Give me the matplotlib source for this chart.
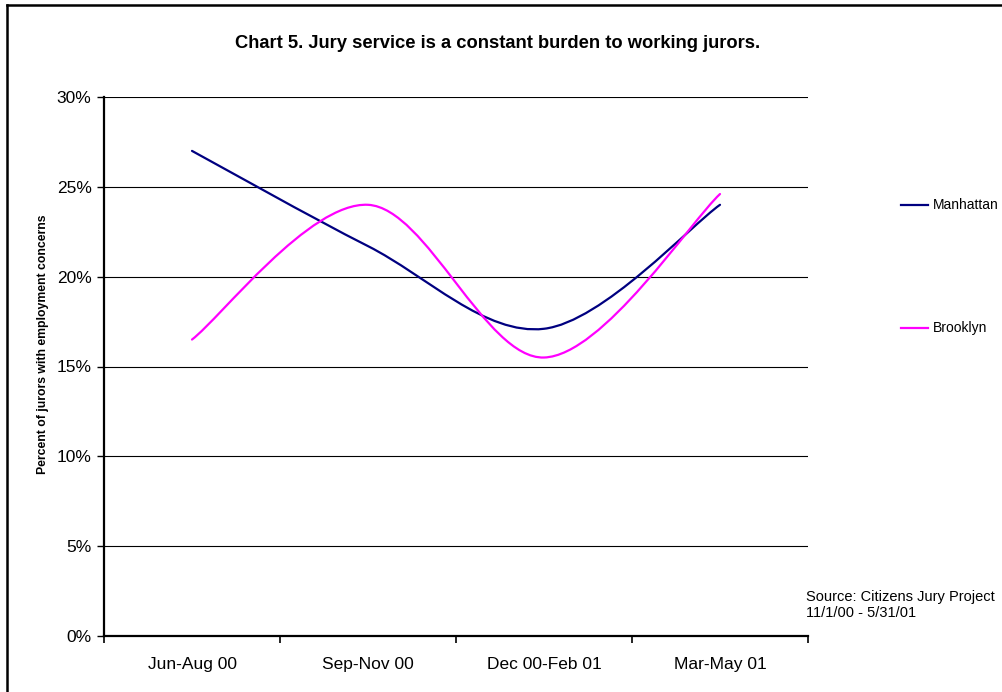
import matplotlib
matplotlib.use("Agg")
import matplotlib.pyplot as plt
from matplotlib.path import Path
from matplotlib.patches import PathPatch
from matplotlib.lines import Line2D
from matplotlib.ticker import FixedLocator, FuncFormatter

plt.rcParams['font.family'] = ['Liberation Sans', 'DejaVu Sans']

categories = ["Jun-Aug 00", "Sep-Nov 00", "Dec 00-Feb 01", "Mar-May 01"]
manhattan = [27.0, 21.7, 17.1, 24.0]
brooklyn = [16.5, 24.0, 15.5, 24.6]
yticks = [0, 5, 10, 15, 20, 25, 30]
title = "Chart 5. Jury service is a constant burden to working jurors."
ylabel = "Percent of jurors with employment concerns"
source = "Source: Citizens Jury Project\n11/1/00 - 5/31/01"


def smooth_path(xs, ys):
    """Excel-style smoothed line: cubic Bezier segments through the points."""
    pts = list(zip(xs, ys))
    n = len(pts)
    verts = [pts[0]]
    codes = [Path.MOVETO]
    for i in range(n - 1):
        p0 = pts[i - 1] if i > 0 else pts[i]
        p1 = pts[i]
        p2 = pts[i + 1]
        p3 = pts[i + 2] if i + 2 < n else pts[i + 1]
        c1 = (p1[0] + (p2[0] - p0[0]) / 6.0, p1[1] + (p2[1] - p0[1]) / 6.0)
        c2 = (p2[0] - (p3[0] - p1[0]) / 6.0, p2[1] - (p3[1] - p1[1]) / 6.0)
        verts += [c1, c2, p2]
        codes += [Path.CURVE4] * 3
    return Path(verts, codes)


fig = plt.figure(figsize=(10.02, 6.92), dpi=100)
ax = fig.add_axes([104 / 1002, 1 - 636 / 692, 704 / 1002, 539 / 692])

x = list(range(len(categories)))
ax.set_xlim(-0.5, len(categories) - 0.5)
ax.set_ylim(0, 30)

for vals, color in [(manhattan, "#000080"), (brooklyn, "#FF00FF")]:
    patch = PathPatch(smooth_path(x, vals), facecolor="none", edgecolor=color,
                      lw=1.6, capstyle="round", joinstyle="round", zorder=3)
    ax.add_patch(patch)

# gridlines
for yv in yticks[1:]:
    ax.axhline(yv, color="black", lw=0.8, zorder=1)

for s in ["top", "right"]:
    ax.spines[s].set_visible(False)
for s in ["left", "bottom"]:
    ax.spines[s].set_linewidth(1.6)

ax.yaxis.set_major_locator(FixedLocator(yticks))
ax.yaxis.set_major_formatter(FuncFormatter(lambda v, p: f"{v:.0f}%"))
ax.tick_params(axis="y", direction="out", length=5, width=1.0, pad=4, labelsize=12.5)

ax.xaxis.set_major_locator(FixedLocator([i - 0.5 for i in range(len(categories) + 1)]))
ax.xaxis.set_major_formatter(FuncFormatter(lambda v, p: ""))
ax.set_xticks(x, minor=True)
ax.set_xticklabels(categories, minor=True)
ax.tick_params(axis="x", which="major", direction="out", length=5, width=1.2)
ax.tick_params(axis="x", which="minor", length=0, pad=15, labelsize=12.5)

fig.text(498 / 1002, 1 - 43 / 692, title, ha="center", va="center",
         fontsize=13.2, fontweight="bold")
fig.text(43 / 1002, 1 - 344 / 692, ylabel, rotation=90, ha="center", va="center",
         fontsize=8.8, fontweight="bold")

# legend
for label, color, ypx in [("Manhattan", "#000080", 205), ("Brooklyn", "#FF00FF", 328)]:
    fig.add_artist(Line2D([901 / 1002, 928 / 1002], [1 - ypx / 692] * 2,
                          color=color, lw=1.6, transform=fig.transFigure))
    fig.text(933 / 1002, 1 - ypx / 692, label, ha="left", va="center", fontsize=10)

fig.text(806 / 1002, 1 - 605 / 692, source, ha="left", va="center",
         fontsize=10.5, linespacing=1.2)

# outer border (top and left edges visible)
fig.add_artist(Line2D([7 / 1002, 1.0], [1 - 5 / 692] * 2, color="black", lw=1.8,
                      transform=fig.transFigure))
fig.add_artist(Line2D([7 / 1002] * 2, [0.0, 1 - 5 / 692], color="black", lw=1.8,
                      transform=fig.transFigure))

fig.savefig("out.png", dpi=100)
